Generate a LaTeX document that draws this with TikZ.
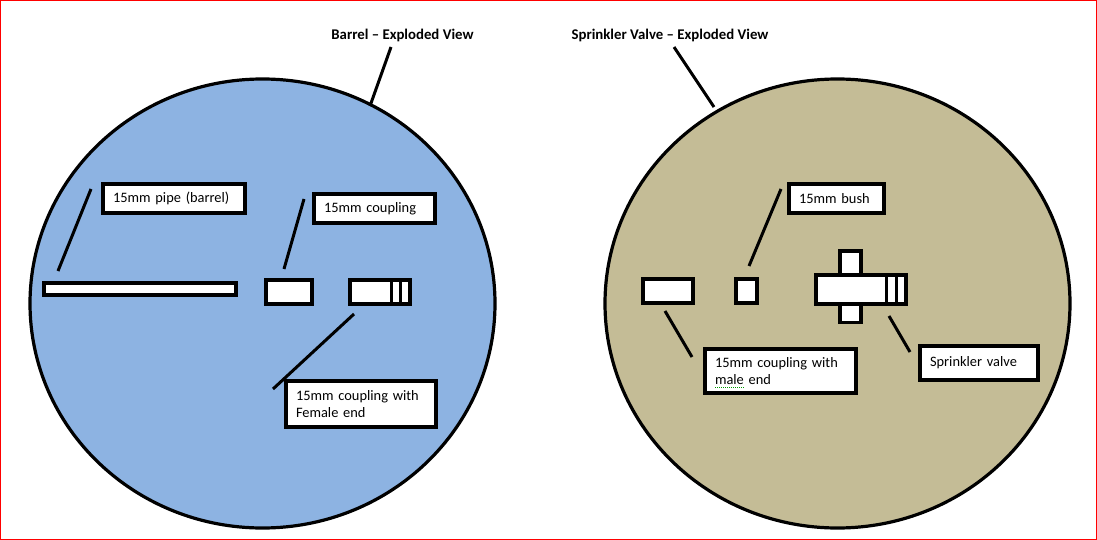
\documentclass[tikz,border=0pt]{standalone}
\usepackage{fontspec}
\setmainfont{Carlito}
\usetikzlibrary{shapes.geometric}
\definecolor{barrelblue}{RGB}{141,179,226}
\definecolor{valvetan}{RGB}{196,188,150}
\tikzset{
    part/.style={draw=black, line width=3.2pt, fill=white, inner sep=0pt, outer sep=0pt},
    tag/.style={part, inner xsep=10pt, align=left, font=\fontsize{14.4}{17}\selectfont},
    lead/.style={black, line width=3pt},
    view/.style={draw=black, line width=3.2pt, ellipse, inner sep=0pt, outer sep=0pt, minimum width=465pt, minimum height=449pt},
    title/.style={font=\fontsize{14.8}{17}\selectfont\bfseries, inner sep=0pt}
}
\begin{document}
\begin{tikzpicture}[x=1pt, y=-1pt] % 坐标与像素一致
    \useasboundingbox (0, 0) rectangle (1097, 540);
    % --- 外框 ---
    \draw[red, line width=2pt] (0, 0) rectangle (1097, 540);

    % --- 两个圆 ---
    \node[view, fill=barrelblue] (barrel) at (262.5, 303.5) {};
    \node[view, fill=valvetan] (valve) at (837.5, 303.5) {};

    % --- 标题 ---
    \node[title] (barreltitle) at (402.5, 35) {Barrel – Exploded View};
    \node[title] (valvetitle) at (670, 35) {Sprinkler Valve – Exploded View};
    \coordinate (barrelfoot) at (391, 47);
    \coordinate (barrelend) at (370, 106);
    \coordinate (valvefoot) at (674, 47);
    \coordinate (valveend) at (714, 107);
    \draw[lead] (barrelfoot) -- (barrelend);
    \draw[lead] (valvefoot) -- (valveend);

    % --- 左侧零件 ---
    \node[part, minimum width=192pt, minimum height=12pt] (pipe) at (140, 289) {};
    \node[part, minimum width=46pt, minimum height=24pt] (coupling) at (289, 292) {};
    \node[part, minimum width=60pt, minimum height=24pt] (female) at (380, 292) {};
    \draw[lead] (female.north west) ++(41, 0) coordinate (femalea) -- (femalea |- female.south);
    \draw[lead] (female.north west) ++(50, 0) coordinate (femaleb) -- (femaleb |- female.south);

    % --- 左侧标签 ---
    \node[tag, text width=122pt, minimum height=29pt] (pipetag) at (174, 198.5) {15mm pipe (barrel)};
    \node[tag, text width=101pt, minimum height=29pt] (couplingtag) at (374.5, 208.5) {15mm coupling};
    \node[tag, text width=130pt, minimum height=46pt] (femaletag) at (361, 404) {15mm coupling with\\Female end};

    % --- 左侧引线 ---
    \coordinate (pipea) at (91, 189);
    \coordinate (pipeb) at (58, 271);
    \coordinate (couplinga) at (304, 199);
    \coordinate (couplingb) at (284, 269);
    \coordinate (femalec) at (354, 314);
    \coordinate (femaled) at (273, 389);
    \draw[lead] (pipea) -- (pipeb);
    \draw[lead] (couplinga) -- (couplingb);
    \draw[lead] (femalec) -- (femaled);

    % --- 右侧零件 ---
    \node[part, minimum width=50pt, minimum height=24pt] (male) at (668, 291) {};
    \node[part, minimum width=21pt, minimum height=24pt] (bush) at (746.5, 291) {};
    \node[part, minimum width=21pt, minimum height=24pt] (stubtop) at (850.5, 263) {};
    \node[part, minimum width=21pt, minimum height=18pt] (stubbottom) at (850.5, 313.5) {};
    \node[part, minimum width=90pt, minimum height=29pt] (sprinkler) at (861, 289.5) {};
    \draw[lead] (sprinkler.north west) ++(70, 0) coordinate (sprinklera) -- (sprinklera |- sprinkler.south);
    \draw[lead] (sprinkler.north west) ++(80, 0) coordinate (sprinklerb) -- (sprinklerb |- sprinkler.south);

    % --- 右侧标签 ---
    \node[tag, text width=75pt, minimum height=29pt] (bushtag) at (836.5, 198.5) {15mm bush};
    \node[tag, text width=131pt, minimum height=44pt] (maletag) at (780.5, 371) {15mm coupling with\\male end};
    \node[tag, text width=98pt, minimum height=34pt] (sprinklertag) at (979, 363) {Sprinkler valve};

    % --- 拼写检查波浪线 ---
    \draw[green!60!black, line width=1pt, densely dotted] (715, 387) -- (744, 387);

    % --- 右侧引线 ---
    \coordinate (busha) at (781, 189);
    \coordinate (bushb) at (749, 266);
    \coordinate (malea) at (665, 311);
    \coordinate (maleb) at (692, 357);
    \coordinate (sprinklerc) at (889, 316);
    \coordinate (sprinklerd) at (910, 352);
    \draw[lead] (busha) -- (bushb);
    \draw[lead] (malea) -- (maleb);
    \draw[lead] (sprinklerc) -- (sprinklerd);
\end{tikzpicture}
\end{document}
